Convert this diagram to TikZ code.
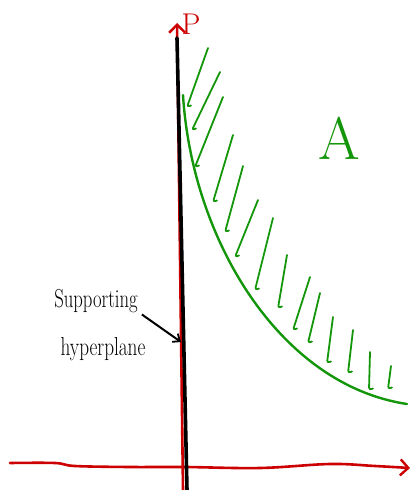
\documentclass[tikz,border=0pt]{standalone}
\usetikzlibrary{arrows.meta}
\definecolor{axred}{RGB}{204,0,0}
\definecolor{setgreen}{RGB}{20,150,10}
\begin{document}
\begin{tikzpicture}[x=1pt,y=-1pt,
  axis/.style={draw=axred,line width=2.6pt,line cap=round,-{Straight Barb[length=8pt,width=16pt,line width=2.4pt]}},
  hplane/.style={draw=black,line width=3.6pt,line cap=round},
  boundary/.style={draw=setgreen,line width=2.4pt,line cap=round,line join=round},
  hatch/.style={draw=setgreen,line width=1.8pt,line cap=round,line join=round,rounded corners=2.5pt},
  hand/.style={font=\fontsize{26}{28}\selectfont,inner sep=0pt},
  pointer/.style={draw=black,line width=2pt,-{Straight Barb[length=6pt,width=10pt,line width=1.8pt]}}]
\useasboundingbox (0,0) rectangle (413,490);
% coordinates of axes
\coordinate (ybot) at (183,490);
\coordinate (ytop) at (177,23);
\coordinate (htop) at (177,38);
\coordinate (hbot) at (187,490);
% axes
\draw[axis] (ybot) -- (ytop);
\draw[axis] plot[smooth,tension=0.6] coordinates {(10,463) (55,463) (75,466) (130,467) (185,467) (260,468) (330,464) (375,466) (410,468)};
% supporting hyperplane
\draw[hplane] (htop) -- (hbot);
% boundary of A
\draw[boundary] (183,95) .. controls (192,240) and (280,385) .. (407,404);
% hatching
\foreach \tx/\ty/\bx/\by in {208/48/187/107, 220/72/192/130, 223/97/195/167, 233/135/213/202, 243/166/225/232, 258/200/235/257, 273/218/255/290, 287/255/278/308, 310/277/293/330, 320/293/308/343, 333/317/327/363, 353/330/348/373, 370/352/369/390, 391/366/388/389}
  \draw[hatch] (\tx,\ty) -- (\bx,\by) -- ++(4,-1.5);
% labels
\node[hand,text=axred,font=\fontsize{30}{30}\selectfont] (plabel) at (191,24) {P};
\node[hand,text=setgreen,font=\fontsize{60}{60}\selectfont] (alabel) at (339,138) {A};
\node[hand,anchor=base] (sup) at (96,307) {\scalebox{0.72}[1]{Supporting}};
\node[hand,anchor=base] (hyp) at (103,355) {\scalebox{0.74}[1]{hyperplane}};
\coordinate (ptip) at (181,342);
\draw[pointer] (sup.south east) ++(4,2) -- (ptip);
\end{tikzpicture}
\end{document}
